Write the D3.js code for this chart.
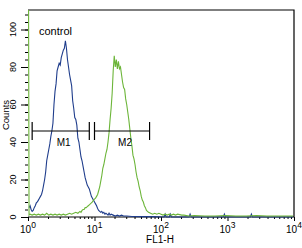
<!DOCTYPE html>
<meta charset="utf-8">
<script src="https://d3js.org/d3.v7.min.js"></script>
<style>
  body { margin: 0; background: #fff; }
  text { font-family: "Liberation Sans", Arial, sans-serif; fill: #000; }
</style>
<div id="chart"></div>
<script>
// 256-channel histogram over 4 log decades: channel c -> FL1-H = 10^(c/64)
const controlChannels = [1,2,3,4,5,6,7,8,9,10,11,12,13,14,15,16,17,18,19,20,21,22,23,24,25,26,27,28,29,30,
  31,32,33,34,35,36,37,38,39,40,41,42,43,44,45,46,47,48,49,50,51,52,53,54,55,56,57,58,59,60,
  61,62,63,64,65,66,67,68,69,70,71,72,73,74,75,76,77,78,79,80,82,84,86,88,90,92,95,100,
  110,120,131,132,133,136,137,138,150,155,156,157,170,188,189,190,214,215,216,230,255];
const controlCounts = [5,6,4,3,3.5,5,6,7.5,8,9,10,11,12,14,17,20,24,30,33,36,39,43,46,50,60,67,71,78,80,82,
  81,85,87,89,90,94,90,84,80,76,73,70,62,58,53,52,49,42,40,36,32,30,27,24,21,19,17,16,15,13,
  11,10,9,8,7,6,4.5,3.5,3,2.5,3,2,2.5,1.5,2,1.5,1,2,1,1.5,1,0.5,1,0.5,1,0.5,0.5,0.3,
  0.2,0.2,0,1.5,0,0,1.5,0,0,0,1.5,0,0,0,1.5,0,0,1.5,0,0,0];

const sampleChannels = [0,1,2,4,6,8,10,12,14,16,18,20,22,24,26,28,30,32,34,36,38,40,42,44,46,48,50,51,52,53,
  54,55,56,57,58,59,60,61,62,63,64,65,66,67,68,69,70,71,72,73,74,75,76,77,78,79,80,81,82,83,
  84,85,86,87,88,89,90,91,92,93,94,95,96,97,98,99,100,101,102,103,104,105,106,107,108,109,110,111,112,113,
  114,115,116,118,120,122,124,126,128,130,132,134,136,138,140,142,144,148,150,155,160,170,180,190,200,210,220,230,240,255];
const sampleCounts = [250,1,1.5,1,1.5,1,1.5,1,1.5,1,2,1,1.5,1,1.5,1,1.5,1,1.5,1,1.5,2,1.5,2,2.5,2,3,2.5,3.5,4,
  4,5,5,5.5,6,6.5,7,7.5,8,9,9.5,10,11,12,14,16,19,22,26,28,31,34,36,40,45,52,58,66,78,86,
  80,84,79,83,79,80,76,72,69,68,63,60,56,52,47,42,38,33,31,28,24,21,19,16,14,11,9,8,6,5,
  3.5,3,2.5,2,1.5,2,1.5,2,1.5,1,1.5,1,1.5,1,1.5,1,1.5,1,1,0.5,0.8,0.5,0.5,0.8,0.5,0.5,0.8,0.5,0.5,0.5];

const yTicks = [0, 20, 40, 60, 80, 100];
const xDecades = [1, 10, 100, 1000, 10000];
const markerNames = ["M1", "M2"];
const markerStart = [4, 64];
const markerEnd = [59, 117];

const W = 302, H = 248;
const pLeft = 28, pRight = 294, pTop = 10, pBottom = 217;

const toFL1 = c => Math.pow(10, c / 64);

const x = d3.scaleLog().domain([1, 10000]).range([pLeft, pRight]);
const y = d3.scaleLinear().domain([0, 110.4]).range([pBottom, pTop]);

const svg = d3.select("#chart").append("svg")
  .attr("width", W).attr("height", H);

svg.append("defs").append("clipPath").attr("id", "plot")
  .append("rect").attr("x", pLeft - 1).attr("y", pTop).attr("width", pRight - pLeft + 1).attr("height", pBottom - pTop + 1);

// y axis: minor then major ticks
const yMinor = svg.append("g").attr("transform", `translate(${pLeft},0)`)
  .call(d3.axisLeft(y).tickValues(d3.range(0, 110, 4)).tickSize(3).tickFormat(""));
const yMajor = svg.append("g").attr("transform", `translate(${pLeft},0)`)
  .call(d3.axisLeft(y).tickValues(yTicks).tickSize(7).tickFormat(""));
[yMinor, yMajor].forEach(g => {
  g.select(".domain").remove();
  g.selectAll("line").attr("stroke", "#000");
});

svg.append("g").selectAll("text").data(yTicks).join("text")
  .attr("transform", d => `translate(16,${y(d)}) rotate(-90)`)
  .attr("text-anchor", "middle")
  .attr("font-size", 9)
  .text(d => d);

svg.append("text")
  .attr("transform", `translate(8.5,115) rotate(-90)`)
  .attr("text-anchor", "middle")
  .attr("font-size", 9.5)
  .text("Counts");

// x axis: log minor ticks and decades
const minorX = [];
for (let d = 1; d < 10000; d *= 10) for (let k = 2; k < 10; k++) minorX.push(d * k);
const xMinor = svg.append("g").attr("transform", `translate(0,${pBottom})`)
  .call(d3.axisBottom(x).tickValues(minorX).tickSize(2).tickFormat(""));
const xMajor = svg.append("g").attr("transform", `translate(0,${pBottom})`)
  .call(d3.axisBottom(x).tickValues(xDecades).tickSize(4).tickFormat(""));
xMinor.select(".domain").remove();
xMajor.select(".domain").attr("stroke", "#000").attr("d", `M${pLeft},0H${pRight}`);
svg.selectAll("g line").attr("stroke", "#000");

const xl = svg.append("g").selectAll("text").data(xDecades).join("text")
  .attr("x", d => x(d))
  .attr("y", 233)
  .attr("text-anchor", "middle")
  .attr("font-size", 10);
xl.append("tspan").text("10");
xl.append("tspan").attr("dy", -5).attr("font-size", 8.5).text(d => Math.round(Math.log10(d)));

svg.append("text")
  .attr("x", 160).attr("y", 243)
  .attr("text-anchor", "middle")
  .attr("font-size", 10)
  .text("FL1-H");

// frame: top and right edges
svg.append("path")
  .attr("d", `M${pLeft},${pTop}H${pRight}V${pBottom}`)
  .attr("fill", "none").attr("stroke", "#000").attr("stroke-width", 1.2);

// histograms
const line = d3.line().x(d => x(toFL1(d[0]))).y(d => y(d[1]));
const plot = svg.append("g").attr("clip-path", "url(#plot)");

plot.append("path")
  .datum(controlChannels.map((c, i) => [c, controlCounts[i]]))
  .attr("d", line).attr("fill", "none")
  .attr("stroke", "#1f3d8c").attr("stroke-width", 1.1);

plot.append("path")
  .datum(sampleChannels.map((c, i) => [c, sampleCounts[i]]))
  .attr("d", line).attr("fill", "none")
  .attr("stroke", "#6cb539").attr("stroke-width", 1.1);

// markers
const my = 131;
markerNames.forEach((name, i) => {
  const x0 = x(toFL1(markerStart[i])), x1 = x(toFL1(markerEnd[i]));
  const g = svg.append("g").attr("stroke", "#000").attr("stroke-width", 1.2);
  g.append("line").attr("x1", x0).attr("x2", x1).attr("y1", my).attr("y2", my);
  g.append("line").attr("x1", x0).attr("x2", x0).attr("y1", my - 9).attr("y2", my + 9);
  g.append("line").attr("x1", x1).attr("x2", x1).attr("y1", my - 9).attr("y2", my + 9);
  svg.append("text")
    .attr("x", (x0 + x1) / 2 + 3).attr("y", my + 15)
    .attr("text-anchor", "middle").attr("font-size", 10)
    .text(name);
});

svg.append("text")
  .attr("x", 39).attr("y", 35)
  .attr("font-size", 11)
  .text("control");
</script>
